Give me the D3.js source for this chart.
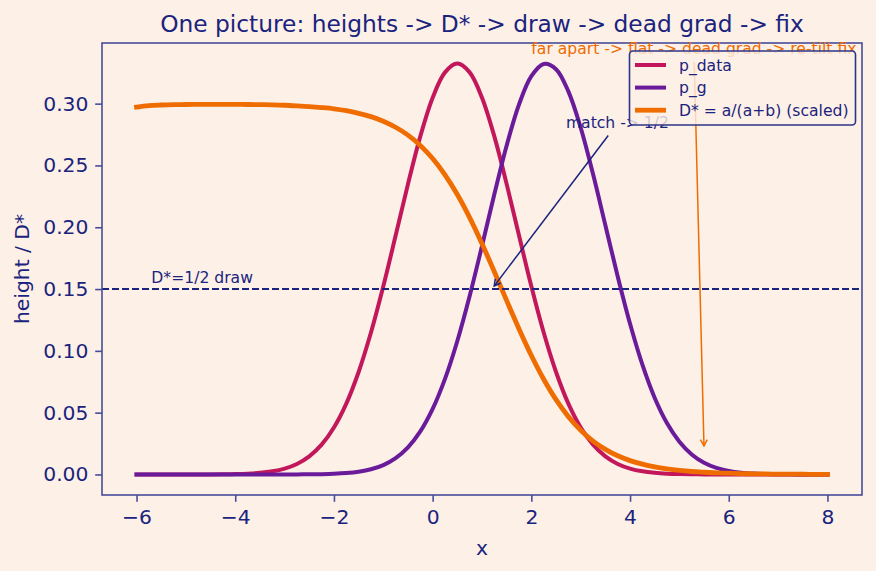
<!DOCTYPE html>
<html>
<head>
<meta charset="utf-8">
<script src="https://cdn.jsdelivr.net/npm/d3@7"></script>
<style>
  html, body { margin: 0; padding: 0; background: #fdf0e6; }
  svg { display: block; }
  text { font-family: "DejaVu Sans", sans-serif; }
</style>
</head>
<body>
<svg id="chart" width="876" height="571"></svg>
<script>
// ---------- data ----------
const xValues = [-6, -5.75, -5.5, -5.25, -5, -4.75, -4.5, -4.25, -4, -3.75, -3.5, -3.25, -3, -2.75, -2.5, -2.25,
  -2, -1.75, -1.5, -1.25, -1, -0.75, -0.5, -0.25, 0, 0.25, 0.5, 0.75, 1, 1.25, 1.5, 1.75,
  2, 2.25, 2.5, 2.75, 3, 3.25, 3.5, 3.75, 4, 4.25, 4.5, 4.75, 5, 5.25, 5.5, 5.75,
  6, 6.25, 6.5, 6.75, 7, 7.25, 7.5, 7.75, 8];

const pData = [0, 0, 0, 0, 0.00001, 0.00002, 0.00006, 0.00013, 0.00029, 0.00063, 0.00129, 0.00252, 0.00473, 0.00849, 0.01461, 0.0241,
  0.0380, 0.0573, 0.0829, 0.1148, 0.1522, 0.1933, 0.2349, 0.2735, 0.3048, 0.3253, 0.3324, 0.3253, 0.3048, 0.2735, 0.2349, 0.1933,
  0.1522, 0.1148, 0.0829, 0.0573, 0.0380, 0.0241, 0.01461, 0.00849, 0.00473, 0.00252, 0.00129, 0.00063, 0.00029, 0.00013, 0.00006, 0.00002,
  0.00001, 0, 0, 0, 0, 0, 0, 0, 0];

const pG = [0, 0, 0, 0, 0, 0, 0, 0, 0, 0, 0, 0.00001, 0.00002, 0.00005, 0.00011, 0.00025,
  0.00054, 0.00112, 0.00221, 0.00418, 0.00758, 0.0132, 0.0219, 0.0348, 0.0530, 0.0773, 0.1080, 0.1444, 0.1849, 0.2267, 0.2662, 0.2993,
  0.3222, 0.3321, 0.3279, 0.3099, 0.2805, 0.2430, 0.2016, 0.1602, 0.1219, 0.0888, 0.0619, 0.0414, 0.0265, 0.0162, 0.00950, 0.00533,
  0.00287, 0.00147, 0.00073, 0.00034, 0.00015, 0.00007, 0.00003, 0.00001, 0];

const dStar = [0.2972, 0.2984, 0.2989, 0.2992, 0.2993, 0.2994, 0.2994, 0.2994, 0.2994, 0.2993, 0.2992, 0.2990, 0.2987, 0.2982, 0.2976, 0.2968,
  0.2958, 0.2943, 0.2922, 0.2895, 0.2858, 0.2809, 0.2745, 0.2662, 0.2556, 0.2424, 0.2265, 0.2078, 0.1867, 0.1640, 0.1406, 0.1177,
  0.0962, 0.0770, 0.0605, 0.0468, 0.0358, 0.0270, 0.0203, 0.0151, 0.0112, 0.0083, 0.0061, 0.0045, 0.0033, 0.0024, 0.0018, 0.0013,
  0.0010, 0.0007, 0.0005, 0.0004, 0.0003, 0.0002, 0.0002, 0.0001, 0.0001];

const seriesNames = ["p_data", "p_g", "D* = a/(a+b) (scaled)"];
const xTicks = [-6, -4, -2, 0, 2, 4, 6, 8];
const yTicks = [0.00, 0.05, 0.10, 0.15, 0.20, 0.25, 0.30];
const drawLevel = 0.15;
const titleText = "One picture: heights -> D* -> draw -> dead grad -> fix";
const xLabel = "x";
const yLabel = "height / D*";
const noteDraw = { text: "D*=1/2 draw", x: -5.7, y: 0.155 };
const noteMatch = { text: "match -> 1/2", x: 2.7, y: 0.28, tx: 1.2, ty: 0.15 };
const noteFar = { text: "far apart -> flat -> dead grad -> re-tilt fix", x: 2.0, y: 0.34, tx: 5.5, ty: 0.02 };

// ---------- styles ----------
const BG = "#fdf0e6";
const NAVY = "#1a237e";
const SPINE = "#474d99";
const colors = ["#c2185b", "#6a1b9a", "#ef6c00"];
const widths = [4, 4, 4.8];
const FS_TICK = 20.3, FS_TITLE = 23.3, FS_SMALL = 15.6;

const svg = d3.select("#chart");
svg.append("rect").attr("width", 876).attr("height", 571).attr("fill", BG);

const L = 102, R = 862, T = 43, B = 495;
const x = d3.scaleLinear().domain([-6.7, 8.7]).range([L, R]);
const y = d3.scaleLinear().domain([-0.01662, 0.34907]).range([B, T]);

svg.append("defs").append("clipPath").attr("id", "plotclip")
  .append("rect").attr("x", L).attr("y", T).attr("width", R - L).attr("height", B - T);

const plot = svg.append("g").attr("clip-path", "url(#plotclip)");

const series = [pData, pG, dStar];
const line = d3.line().x((d, i) => x(xValues[i])).y(d => y(d)).curve(d3.curveCatmullRom.alpha(0.5));

series.forEach((s, k) => {
  plot.append("path").datum(s).attr("d", line)
    .attr("fill", "none").attr("stroke", colors[k]).attr("stroke-width", widths[k])
    .attr("stroke-linejoin", "round").attr("stroke-linecap", "square");
});

// dashed draw line
plot.append("line").attr("x1", L).attr("x2", R).attr("y1", y(drawLevel)).attr("y2", y(drawLevel))
  .attr("stroke", NAVY).attr("stroke-width", 1.9).attr("stroke-dasharray", "7,3");

// axes
const xAxis = d3.axisBottom(x).tickValues(xTicks).tickSize(6.8).tickPadding(8).tickFormat(d3.format("d"));
const yAxis = d3.axisLeft(y).tickValues(yTicks).tickSize(6.8).tickPadding(6.8).tickFormat(d3.format(".2f"));
const gx = svg.append("g").attr("transform", `translate(0,${B})`).call(xAxis);
const gy = svg.append("g").attr("transform", `translate(${L},0)`).call(yAxis);
[gx, gy].forEach(g => {
  g.select(".domain").remove();
  g.selectAll(".tick line").attr("stroke", SPINE).attr("stroke-width", 1.6);
  g.selectAll(".tick text").attr("fill", NAVY).style("font-size", FS_TICK + "px")
    .style("font-family", "DejaVu Sans");
});

// frame
svg.append("rect").attr("x", L).attr("y", T).attr("width", R - L).attr("height", B - T)
  .attr("fill", "none").attr("stroke", SPINE).attr("stroke-width", 1.6);

// labels
svg.append("text").attr("x", (L + R) / 2).attr("y", 32).attr("text-anchor", "middle")
  .attr("fill", NAVY).style("font-size", FS_TITLE + "px").text(titleText);
svg.append("text").attr("x", (L + R) / 2).attr("y", 555).attr("text-anchor", "middle")
  .attr("fill", NAVY).style("font-size", FS_TICK + "px").text(xLabel);
svg.append("text").attr("transform", `translate(29,${(T + B) / 2}) rotate(-90)`).attr("text-anchor", "middle")
  .attr("fill", NAVY).style("font-size", FS_TICK + "px").text(yLabel);

// annotations
svg.append("text").attr("x", x(noteDraw.x)).attr("y", y(noteDraw.y)).attr("fill", NAVY)
  .style("font-size", FS_SMALL + "px").text(noteDraw.text);

function annotate(note, color) {
  const t = svg.append("text").attr("x", x(note.x)).attr("y", y(note.y)).attr("fill", color)
    .style("font-size", FS_SMALL + "px").text(note.text);
  const bb = t.node().getBBox();
  const cx = bb.x + bb.width / 2, cy = bb.y + bb.height / 2;
  const ex = x(note.tx), ey = y(note.ty);
  const dx = ex - cx, dy = ey - cy;
  let s = Infinity;
  if (dx !== 0) s = Math.min(s, (bb.width / 2) / Math.abs(dx));
  if (dy !== 0) s = Math.min(s, (bb.height / 2) / Math.abs(dy));
  const len = Math.hypot(dx, dy), ux = dx / len, uy = dy / len;
  const sx = cx + dx * s + ux * 3.9, sy = cy + dy * s + uy * 3.9;
  const tx = ex - ux * 3.9, ty = ey - uy * 3.9;
  const g = svg.append("g");
  g.append("line").attr("x1", sx).attr("y1", sy).attr("x2", tx).attr("y2", ty)
    .attr("stroke", color).attr("stroke-width", 1.5);
  const hl = 6.2, hw = 3.4;
  const px = -uy, py = ux;
  const bx = tx - ux * hl, by = ty - uy * hl;
  g.append("path")
    .attr("d", `M${bx + px * hw},${by + py * hw}L${tx},${ty}L${bx - px * hw},${by - py * hw}`)
    .attr("fill", "none").attr("stroke", color).attr("stroke-width", 1.5);
}
annotate(noteMatch, NAVY);
annotate(noteFar, colors[2]);

// legend
const lg = svg.append("g");
lg.append("rect").attr("x", 629.5).attr("y", 51).attr("width", 226).attr("height", 74).attr("rx", 3.5)
  .attr("fill", BG).attr("fill-opacity", 0.8).attr("stroke", "#2e3488").attr("stroke-width", 1.6);
seriesNames.forEach((n, k) => {
  const yy = 65 + k * 22.6;
  lg.append("line").attr("x1", 635).attr("x2", 666).attr("y1", yy).attr("y2", yy)
    .attr("stroke", colors[k]).attr("stroke-width", widths[k]);
  lg.append("text").attr("x", 679).attr("y", yy).attr("dy", "0.36em").attr("fill", NAVY)
    .style("font-size", FS_SMALL + "px").text(n);
});
</script>
</body>
</html>
